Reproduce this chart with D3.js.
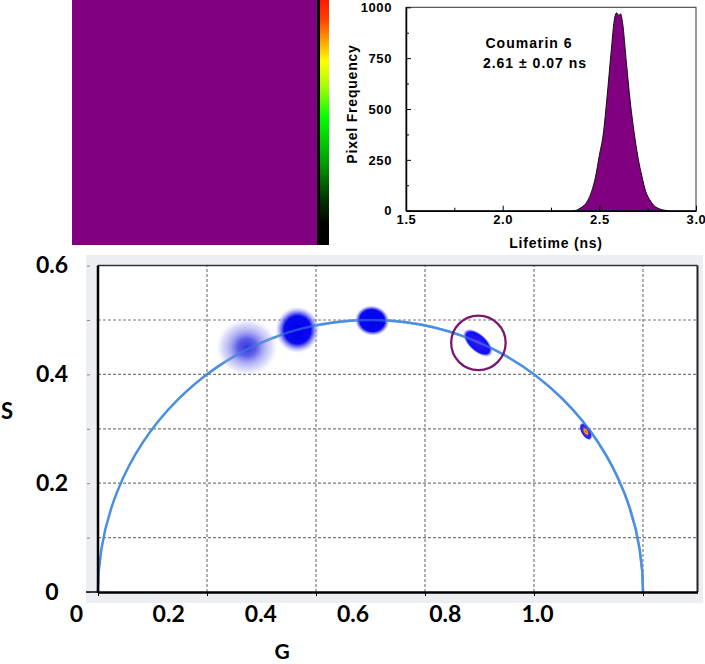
<!DOCTYPE html>
<html>
<head>
<meta charset="utf-8">
<script src="https://cdn.jsdelivr.net/npm/d3@7/dist/d3.min.js"></script>
<style>
    body { margin: 0; background: #fff; }
    svg { display: block; }
</style>
</head>
<body>
<svg id="chart" width="705" height="664"></svg>
<script>
// lifetime histogram (ns -> pixel count)
const lifetimeBins = [2.36, 2.38, 2.40, 2.42, 2.44, 2.46, 2.48, 2.50, 2.52, 2.54, 2.56, 2.58, 2.59, 2.60, 2.61, 2.62, 2.64, 2.66, 2.68, 2.70, 2.72, 2.74, 2.76, 2.78, 2.80, 2.82, 2.84, 2.86];
const pixelFrequency = [0, 2, 12, 25, 50, 95, 165, 272, 375, 560, 770, 952, 973, 960, 968, 925, 728, 535, 385, 262, 170, 95, 55, 28, 14, 6, 2, 0];
const histXTicks = [1.5, 2.0, 2.5, 3.0];
const histXMinor = [1.75, 2.25, 2.75];
const histYTicks = [0, 250, 500, 750, 1000];
const histYMinor = [125, 375, 625, 875];
const histNote = ["Coumarin 6", "2.61 \u00b1 0.07 ns"];

// phasor clusters (G, S, spread along the cluster axes, tilt in degrees)
const clusterG = [0.273, 0.366, 0.503, 0.697, 0.895];
const clusterS = [0.450, 0.482, 0.499, 0.458, 0.295];
const clusterSpreadA = [0.057, 0.041, 0.032, 0.034, 0.018];
const clusterSpreadB = [0.053, 0.043, 0.028, 0.017, 0.009];
const clusterTilt = [0, 0, 10, 42, 60];

// selected cluster marker
const selectedG = [0.698];
const selectedS = [0.458];
const selectedR = [0.050];

const phasorGTicks = [0, 0.2, 0.4, 0.6, 0.8, 1.0];
const phasorSTicks = [0, 0.2, 0.4, 0.6];
const phasorGGrid = [0.2, 0.4, 0.6, 0.8, 1.0];
const phasorSGrid = [0.1, 0.2, 0.3, 0.4, 0.5];

const svg = d3.select("#chart");
const defs = svg.append("defs");

drawImagePanel();
drawHistogram();
drawPhasor();

// 上方左側 影像 + 色條
function drawImagePanel() {
    svg.append("rect")
        .attr("x", 72).attr("y", 0)
        .attr("width", 245).attr("height", 245)
        .attr("fill", "#800080");

    const grad = defs.append("linearGradient")
        .attr("id", "cbar")
        .attr("x1", 0).attr("y1", 0).attr("x2", 0).attr("y2", 1);
    [["0%", "#ff1a00"], ["8%", "#ff4000"], ["16%", "#ff9a00"], ["25%", "#ffff00"],
     ["35%", "#a8ff00"], ["48%", "#00ff00"], ["66%", "#00a000"], ["82%", "#003000"],
     ["92%", "#000000"], ["100%", "#000000"]].forEach(s => {
        grad.append("stop").attr("offset", s[0]).attr("stop-color", s[1]);
    });

    svg.append("rect")
        .attr("x", 317).attr("y", 0)
        .attr("width", 3).attr("height", 245)
        .attr("fill", "#000");
    svg.append("rect")
        .attr("x", 320).attr("y", 0)
        .attr("width", 9).attr("height", 245)
        .attr("fill", "url(#cbar)");
}

// 上方右側 壽命直方圖
function drawHistogram() {
    const x = d3.scaleLinear().domain([1.5, 3.0]).range([406, 696]);
    const y = d3.scaleLinear().domain([0, 1000]).range([210.7, 7.3]);
    const font = "'Liberation Sans', Arial, sans-serif";

    const area = d3.area()
        .x((d, i) => x(lifetimeBins[i]))
        .y0(y(0))
        .y1(d => y(d))
        .curve(d3.curveMonotoneX);

    svg.append("path")
        .datum(pixelFrequency)
        .attr("d", area)
        .attr("fill", "#800080")
        .attr("stroke", "#111")
        .attr("stroke-width", 1);

    // frame
    svg.append("rect")
        .attr("x", x(1.5)).attr("y", y(1000))
        .attr("width", x(3.0) - x(1.5)).attr("height", y(0) - y(1000))
        .attr("fill", "none").attr("stroke", "#333").attr("stroke-width", 1);

    const xAxis = svg.append("g")
        .attr("transform", `translate(0,${y(0)})`)
        .call(d3.axisBottom(x).tickValues(histXTicks).tickFormat(d3.format(".1f"))
            .tickSizeInner(-5).tickSizeOuter(0).tickPadding(4));
    svg.append("g")
        .attr("transform", `translate(0,${y(0)})`)
        .call(d3.axisBottom(x).tickValues(histXMinor).tickFormat("")
            .tickSizeInner(-3).tickSizeOuter(0))
        .select(".domain").remove();

    const yAxis = svg.append("g")
        .attr("transform", `translate(${x(1.5)},0)`)
        .call(d3.axisLeft(y).tickValues(histYTicks).tickFormat(d3.format("d"))
            .tickSizeInner(-5).tickSizeOuter(0).tickPadding(14));
    svg.append("g")
        .attr("transform", `translate(${x(1.5)},0)`)
        .call(d3.axisLeft(y).tickValues(histYMinor).tickFormat("")
            .tickSizeInner(-3).tickSizeOuter(0))
        .select(".domain").remove();

    [xAxis, yAxis].forEach(ax => {
        ax.select(".domain").attr("stroke", "#000").attr("stroke-width", 1.5);
        ax.selectAll("text")
            .attr("font-family", font)
            .attr("font-weight", "bold")
            .attr("font-size", 13)
            .attr("letter-spacing", 0.6)
            .attr("fill", "#000");
    });

    svg.append("text")
        .attr("x", 556).attr("y", 248)
        .attr("text-anchor", "middle")
        .attr("font-family", font).attr("font-weight", "bold")
        .attr("font-size", 14).attr("letter-spacing", 0.8)
        .text("Lifetime (ns)");

    svg.append("text")
        .attr("transform", "translate(357,104) rotate(-90)")
        .attr("text-anchor", "middle")
        .attr("font-family", font).attr("font-weight", "bold")
        .attr("font-size", 14).attr("letter-spacing", 0.8)
        .text("Pixel Frequency");

    svg.selectAll(".note")
        .data(histNote)
        .enter()
        .append("text")
        .attr("class", "note")
        .attr("x", (d, i) => i === 0 ? 529 : 535)
        .attr("y", (d, i) => i === 0 ? 48 : 68)
        .attr("text-anchor", "middle")
        .attr("font-family", font).attr("font-weight", "bold")
        .attr("font-size", 14).attr("letter-spacing", 1)
        .text(d => d);
}

// 下方 相量圖 (phasor plot)
function drawPhasor() {
    const g = d3.scaleLinear().domain([0, 1.1]).range([98, 697.5]);
    const s = d3.scaleLinear().domain([0, 0.6]).range([592, 265.6]);
    const gLabel = d3.scaleLinear().domain([0, 1]).range([76, 537]);
    const font = "Lato, 'Open Sans', sans-serif";

    // gray outer band + white plot
    svg.append("rect")
        .attr("x", 86).attr("y", 255)
        .attr("width", 617).attr("height", 348)
        .attr("fill", "#eceef2");
    svg.append("rect")
        .attr("x", g(0)).attr("y", s(0.6))
        .attr("width", g(1.1) - g(0)).attr("height", s(0) - s(0.6))
        .attr("fill", "#fff");

    // grid
    svg.selectAll(".vgrid")
        .data(phasorGGrid)
        .enter()
        .append("line")
        .attr("class", "vgrid")
        .attr("x1", d => g(d)).attr("x2", d => g(d))
        .attr("y1", s(0)).attr("y2", s(0.6))
        .attr("stroke", "#7a7a7a").attr("stroke-width", 1.2)
        .attr("stroke-dasharray", "3,2");
    svg.selectAll(".hgrid")
        .data(phasorSGrid)
        .enter()
        .append("line")
        .attr("class", "hgrid")
        .attr("x1", g(0)).attr("x2", g(1.1))
        .attr("y1", d => s(d)).attr("y2", d => s(d))
        .attr("stroke", "#7a7a7a").attr("stroke-width", 1.2)
        .attr("stroke-dasharray", "3,2");

    // universal semicircle
    const rx = g(1) - g(0.5);
    const ry = s(0) - s(0.5);
    svg.append("path")
        .attr("d", `M${g(0)},${s(0)} A${rx},${ry} 0 0 1 ${g(1)},${s(0)}`)
        .attr("fill", "none")
        .attr("stroke", "#4a8fe0")
        .attr("stroke-width", 2.5);

    // cluster clouds
    const stopsByCluster = [
        [[0, "#3434e2", 1], [0.3, "#4c4ce6", 0.9], [0.55, "#8080ee", 0.65], [0.8, "#b4b4f5", 0.45], [1, "#dcdcfb", 0]],
        [[0, "#0000e8", 1], [0.6, "#0a0af0", 1], [0.72, "#4848ee", 0.8], [0.88, "#a0a0f6", 0.45], [1, "#dadafc", 0]],
        [[0, "#0000ea", 1], [0.72, "#0808f0", 1], [0.86, "#6060f0", 0.65], [1, "#d0d0fa", 0]],
        [[0, "#4a14e6", 1], [0.3, "#2414f2", 1], [0.78, "#1010f8", 1], [0.9, "#6c6cf4", 0.55], [1, "#d0d0fa", 0]],
        [[0, "#ff2a00", 1], [0.25, "#ffb000", 1], [0.45, "#5a30d0", 1], [0.78, "#1a1af4", 1], [1, "#8080f0", 0]]
    ];

    clusterG.forEach((cg, i) => {
        const grad = defs.append("radialGradient").attr("id", "cloud" + i);
        stopsByCluster[i].forEach(st => {
            grad.append("stop")
                .attr("offset", st[0])
                .attr("stop-color", st[1])
                .attr("stop-opacity", st[2]);
        });
    });

    svg.selectAll(".cloud")
        .data(clusterG)
        .enter()
        .append("ellipse")
        .attr("class", "cloud")
        .attr("cx", d => g(d))
        .attr("cy", (d, i) => s(clusterS[i]))
        .attr("rx", (d, i) => g(clusterSpreadA[i]) - g(0))
        .attr("ry", (d, i) => s(0) - s(clusterSpreadB[i]))
        .attr("transform", (d, i) => `rotate(${clusterTilt[i]},${g(d)},${s(clusterS[i])})`)
        .attr("fill", (d, i) => `url(#cloud${i})`);

    // semicircle drawn again faintly over the clouds
    svg.append("path")
        .attr("d", `M${g(0.2)},${s(0.4)} A${rx},${ry} 0 0 1 ${g(1)},${s(0)}`)
        .attr("fill", "none")
        .attr("stroke", "#4a8fe0")
        .attr("stroke-opacity", 0.5)
        .attr("stroke-width", 2.5);

    // selection circle
    svg.selectAll(".sel")
        .data(selectedG)
        .enter()
        .append("circle")
        .attr("class", "sel")
        .attr("cx", d => g(d))
        .attr("cy", (d, i) => s(selectedS[i]))
        .attr("r", (d, i) => g(selectedR[i]) - g(0))
        .attr("fill", "none")
        .attr("stroke", "#7a1870")
        .attr("stroke-width", 2.3);

    // frame
    svg.append("line")
        .attr("x1", g(0)).attr("x2", g(1.1)).attr("y1", s(0.6)).attr("y2", s(0.6))
        .attr("stroke", "#333").attr("stroke-width", 1.5);
    svg.append("line")
        .attr("x1", g(1.1)).attr("x2", g(1.1)).attr("y1", s(0.6)).attr("y2", s(0))
        .attr("stroke", "#222").attr("stroke-width", 2);

    // outer tick marks on the gray band
    svg.append("g")
        .attr("transform", "translate(90,0)")
        .call(d3.axisLeft(s).tickValues(phasorSGrid.concat([0, 0.6])).tickFormat("").tickSize(3))
        .call(a => a.select(".domain").remove())
        .selectAll("line").attr("stroke", "#888");

    const bottom = svg.append("g")
        .attr("transform", `translate(0,${s(0)})`)
        .call(d3.axisBottom(g).tickValues([0].concat(phasorGGrid)).tickFormat("").tickSize(4).tickSizeOuter(0));
    bottom.select(".domain").attr("stroke", "#000").attr("stroke-width", 2.5);
    svg.append("line")
        .attr("x1", 86).attr("x2", g(0)).attr("y1", s(0)).attr("y2", s(0))
        .attr("stroke", "#000").attr("stroke-width", 1.5);
    svg.append("line")
        .attr("x1", g(0)).attr("x2", g(0)).attr("y1", s(0.6)).attr("y2", s(0) + 1)
        .attr("stroke", "#000").attr("stroke-width", 2.5);

    // tick labels
    svg.append("g")
        .attr("transform", "translate(52,0)")
        .call(d3.axisLeft(s).tickValues(phasorSTicks)
            .tickFormat(d => d === 0 ? "0" : d3.format(".1f")(d)).tickSize(0).tickPadding(0))
        .call(a => a.select(".domain").remove())
        .selectAll("text")
        .attr("text-anchor", "middle")
        .attr("font-family", font).attr("font-weight", "bold")
        .attr("font-size", 23).attr("fill", "#000");

    svg.append("g")
        .attr("transform", "translate(0,606)")
        .call(d3.axisBottom(gLabel).tickValues(phasorGTicks)
            .tickFormat(d => d === 0 ? "0" : d3.format(".1f")(d)).tickSize(0).tickPadding(0))
        .call(a => a.select(".domain").remove())
        .selectAll("text")
        .attr("font-family", font).attr("font-weight", "bold")
        .attr("font-size", 23).attr("fill", "#000");

    svg.append("text")
        .attr("x", 7).attr("y", 419)
        .attr("text-anchor", "middle")
        .attr("font-family", font).attr("font-weight", "bold")
        .attr("font-size", 22)
        .text("S");
    svg.append("text")
        .attr("x", 282).attr("y", 659)
        .attr("text-anchor", "middle")
        .attr("font-family", font).attr("font-weight", "bold")
        .attr("font-size", 21)
        .text("G");
}
</script>
</body>
</html>
